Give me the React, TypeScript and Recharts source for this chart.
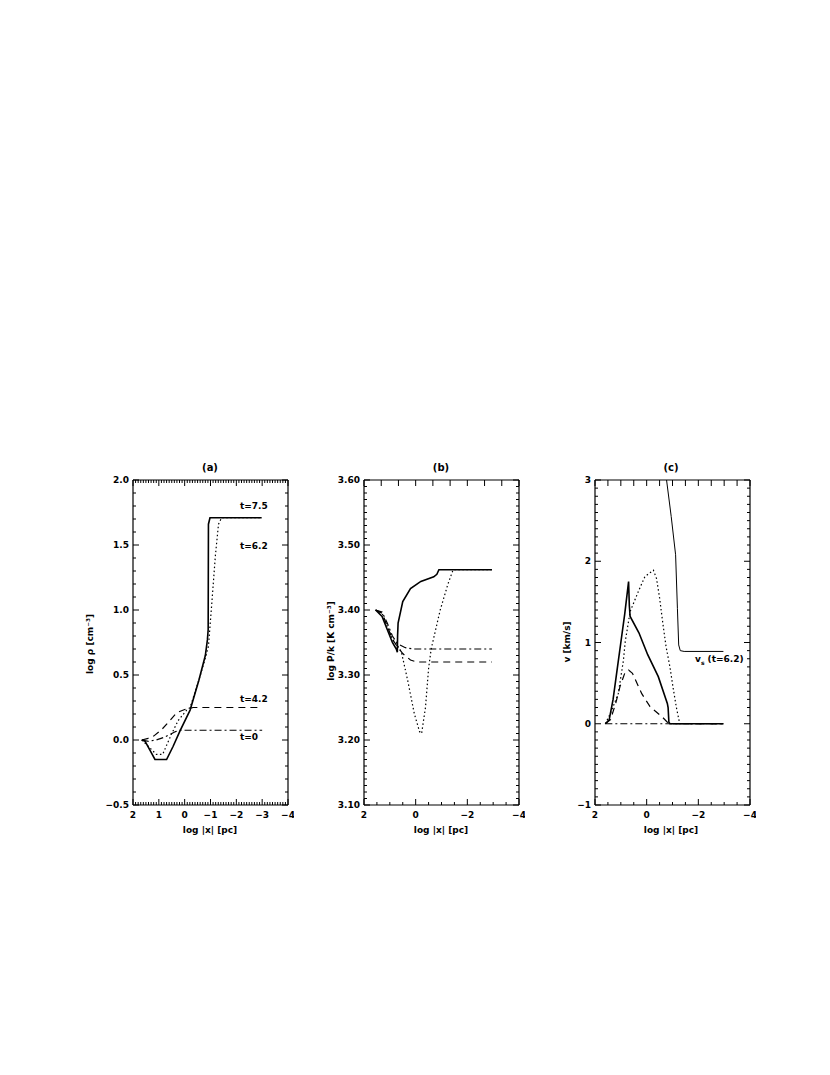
import React from "react";
import { LineChart, Line, XAxis, YAxis } from "recharts";

// log |x| [pc] vs. value, one array per curve
const rhoT0 = [[1.66, 0], [1.4, -0.01], [1.1, 0.0], [0.8, 0.02], [0.6, 0.04], [0.35, 0.065], [0.18, 0.075], [-3, 0.075]];
const rhoT42 = [[1.66, 0], [1.45, 0.01], [1.2, 0.03], [0.89, 0.08], [0.57, 0.15], [0.31, 0.21], [0.0, 0.235], [-0.33, 0.25], [-3, 0.25]];
const rhoT62 = [[1.66, 0], [1.4, -0.05], [1.1, -0.11], [0.85, -0.11], [0.5, 0.05], [0.25, 0.15], [-0.08, 0.23], [-0.21, 0.25], [-0.55, 0.46], [-0.8, 0.63], [-0.92, 0.72], [-1.05, 1.05], [-1.19, 1.42], [-1.31, 1.66], [-1.43, 1.71], [-2.98, 1.71]];
const rhoT75 = [[1.66, 0], [1.53, -0.01], [1.34, -0.08], [1.15, -0.15], [0.7, -0.15], [0.45, -0.05], [0.18, 0.07], [-0.21, 0.23], [-0.55, 0.46], [-0.8, 0.65], [-0.88, 0.77], [-0.91, 0.85], [-0.92, 1.66], [-0.98, 1.71], [-2.98, 1.71]];

const pT0 = [[1.55, 3.4], [1.3, 3.397], [1.1, 3.38], [0.9, 3.36], [0.7, 3.348], [0.4, 3.342], [0.1, 3.34], [-2.95, 3.34]];
const pT42 = [[1.55, 3.4], [1.3, 3.395], [1.1, 3.375], [0.9, 3.355], [0.7, 3.343], [0.5, 3.333], [0.2, 3.323], [-0.05, 3.32], [-2.95, 3.32]];
const pT62 = [[1.55, 3.4], [1.3, 3.395], [1.1, 3.375], [0.9, 3.355], [0.7, 3.345], [0.55, 3.335], [0.3, 3.29], [0.05, 3.24], [-0.15, 3.213], [-0.23, 3.21], [-0.38, 3.25], [-0.5, 3.31], [-0.6, 3.34], [-0.95, 3.4], [-1.25, 3.44], [-1.45, 3.462], [-2.95, 3.462]];
const pT75 = [[1.55, 3.4], [1.3, 3.39], [1.1, 3.37], [0.9, 3.35], [0.75, 3.34], [0.71, 3.335], [0.7, 3.36], [0.68, 3.38], [0.5, 3.413], [0.2, 3.433], [-0.2, 3.444], [-0.7, 3.451], [-0.82, 3.455], [-0.9, 3.462], [-2.95, 3.462]];

const vT0 = [[1.6, 0], [-2.97, 0]];
const vT42 = [[1.6, 0], [1.4, 0.05], [1.2, 0.25], [1.03, 0.46], [0.85, 0.62], [0.7, 0.66], [0.55, 0.62], [0.19, 0.37], [-0.13, 0.21], [-0.58, 0.09], [-0.8, 0.02], [-1.0, 0], [-2.97, 0]];
const vT62 = [[1.6, 0], [1.4, 0.13], [1.1, 0.37], [0.9, 0.78], [0.83, 1.01], [0.64, 1.38], [0.32, 1.63], [0.07, 1.81], [-0.26, 1.89], [-0.38, 1.79], [-0.5, 1.55], [-0.62, 1.25], [-0.75, 0.95], [-0.9, 0.7], [-1.02, 0.45], [-1.15, 0.2], [-1.28, 0], [-2.97, 0]];
const vT75 = [[1.6, 0], [1.45, 0.05], [1.3, 0.3], [1.15, 0.65], [1.0, 1.0], [0.85, 1.35], [0.7, 1.75], [0.67, 1.45], [0.64, 1.32], [0.3, 1.12], [-0.04, 0.85], [-0.45, 0.58], [-0.8, 0.25], [-0.83, 0.2], [-0.86, 0.02], [-0.9, 0], [-2.97, 0]];
const vsT62 = [[-0.77, 3.0], [-0.95, 2.55], [-1.12, 2.08], [-1.19, 1.42], [-1.24, 0.97], [-1.3, 0.9], [-1.45, 0.89], [-2.97, 0.89]];

const xMajorA = [2, 1, 0, -1, -2, -3, -4];
const xMajorBC = [2, 0, -2, -4];
const yMajorA = [-0.5, 0, 0.5, 1, 1.5, 2];
const yMajorB = [3.1, 3.2, 3.3, 3.4, 3.5, 3.6];
const yMajorC = [-1, 0, 1, 2, 3];

const steps = (from: number, to: number, step: number) => {
  const out: number[] = [];
  const n = Math.round((to - from) / step);
  for (let i = 0; i <= n; i++) out.push(Math.round((from + i * step) * 1e4) / 1e4);
  return out;
};

const minus = (s: string) => s.replace("-", "\u2212");
const font = "DejaVu Sans";
const toXY = (pts: number[][]) => pts.map(([x, y]) => ({ x, y }));

function makeTick(side: string, majors: number[], fmt?: (v: number) => string) {
  return (props: any) => {
    const { x, y, payload } = props;
    const v = payload.value;
    const major = majors.some((m) => Math.abs(m - v) < 1e-6);
    const len = major ? 6 : 3;
    let line;
    let label = null;
    if (side === "bottom") {
      line = <line x1={x} x2={x} y1={y} y2={y - len} stroke="#000" />;
      if (major && fmt)
        label = (
          <text x={x} y={y + 13} textAnchor="middle" fontFamily={font} fontSize={9} fontWeight={700} fill="#000">
            {fmt(v)}
          </text>
        );
    } else if (side === "top") {
      line = <line x1={x} x2={x} y1={y} y2={y + len} stroke="#000" />;
    } else if (side === "left") {
      line = <line x1={x} x2={x + len} y1={y} y2={y} stroke="#000" />;
      if (major && fmt)
        label = (
          <text x={x - 4} y={y + 3} textAnchor="end" fontFamily={font} fontSize={9} fontWeight={700} fill="#000">
            {fmt(v)}
          </text>
        );
    } else {
      line = <line x1={x} x2={x - len} y1={y} y2={y} stroke="#000" />;
    }
    return (
      <g>
        {line}
        {label}
      </g>
    );
  };
}

type Series = { data: number[][]; dash?: string; width: number };

const PW = 155;
const PH = 325;

function Panel(props: {
  left: number;
  top: number;
  yDomain: [number, number];
  xBottom: number[];
  xBottomMajor: number[];
  xTop: number[];
  xTopMajor: number[];
  yTicks: number[];
  yMajor: number[];
  yFmt: (v: number) => string;
  series: Series[];
}) {
  const { left, top, yDomain, series } = props;
  return (
    <div style={{ position: "absolute", left: left - 45, top: top - 10 }}>
      <LineChart width={45 + PW + 6} height={10 + PH + 30} margin={{ top: 0, right: 0, bottom: 0, left: 0 }}>
        <XAxis
          xAxisId="b"
          dataKey="x"
          type="number"
          domain={[-4, 2]}
          reversed
          allowDataOverflow
          ticks={props.xBottom}
          interval={0}
          height={30}
          tickSize={0}
          tickMargin={0}
          tickLine={false}
          axisLine={{ stroke: "#000", strokeWidth: 1.2 }}
          tick={makeTick("bottom", props.xBottomMajor, (v) => minus(String(v)))}
        />
        <XAxis
          xAxisId="t"
          orientation="top"
          dataKey="x"
          type="number"
          domain={[-4, 2]}
          reversed
          allowDataOverflow
          ticks={props.xTop}
          interval={0}
          height={10}
          tickSize={0}
          tickMargin={0}
          tickLine={false}
          axisLine={{ stroke: "#000", strokeWidth: 1.2 }}
          tick={makeTick("top", props.xTopMajor)}
        />
        <YAxis
          yAxisId="l"
          type="number"
          domain={yDomain}
          allowDataOverflow
          ticks={props.yTicks}
          interval={0}
          width={45}
          tickSize={0}
          tickMargin={0}
          tickLine={false}
          axisLine={{ stroke: "#000", strokeWidth: 1.2 }}
          tick={makeTick("left", props.yMajor, props.yFmt)}
        />
        <YAxis
          yAxisId="r"
          orientation="right"
          type="number"
          domain={yDomain}
          allowDataOverflow
          ticks={props.yTicks}
          interval={0}
          width={6}
          tickSize={0}
          tickMargin={0}
          tickLine={false}
          axisLine={{ stroke: "#000", strokeWidth: 1.2 }}
          tick={makeTick("right", props.yMajor)}
        />
        {series.map((s, i) => (
          <Line
            key={i}
            xAxisId="b"
            yAxisId="l"
            data={toXY(s.data)}
            dataKey="y"
            type="linear"
            stroke="#000"
            strokeWidth={s.width}
            strokeDasharray={s.dash}
            dot={false}
            activeDot={false}
            isAnimationActive={false}
          />
        ))}
      </LineChart>
    </div>
  );
}

const txt: React.CSSProperties = {
  position: "absolute",
  fontFamily: font,
  fontSize: 9,
  fontWeight: 700,
  whiteSpace: "nowrap",
  lineHeight: 1,
};

function Centered({ x, y, rotate, children, size = 9 }: any) {
  return (
    <div
      style={{
        ...txt,
        fontSize: size,
        left: x,
        top: y,
        transform: `translate(-50%, -50%)${rotate ? " rotate(-90deg)" : ""}`,
      }}
    >
      {children}
    </div>
  );
}

const DASH = "7 5";
const DOT = "1.5 2.5";
const DASHDOT = "7 3 2 3";

export default function App() {
  const xAll = steps(-4, 2, 0.1);
  const xHalf = steps(-4, 2, 0.5);
  const xThird = steps(-4, 2, 2 / 3);
  return (
    <div style={{ position: "absolute", left: 0, top: 0, width: 830, height: 1075, background: "#fff" }}>
      <Panel
        left={133}
        top={480}
        yDomain={[-0.5, 2]}
        xBottom={xAll}
        xBottomMajor={xMajorA}
        xTop={xAll}
        xTopMajor={xMajorA}
        yTicks={steps(-0.5, 2, 0.1)}
        yMajor={yMajorA}
        yFmt={(v) => minus(v.toFixed(1))}
        series={[
          { data: rhoT0, dash: DASHDOT, width: 1.2 },
          { data: rhoT42, dash: DASH, width: 1.2 },
          { data: rhoT62, dash: DOT, width: 1.2 },
          { data: rhoT75, width: 1.6 },
        ]}
      />
      <Panel
        left={364}
        top={480}
        yDomain={[3.1, 3.6]}
        xBottom={xHalf}
        xBottomMajor={xMajorBC}
        xTop={xThird}
        xTopMajor={xThird}
        yTicks={steps(3.1, 3.6, 0.01)}
        yMajor={yMajorB}
        yFmt={(v) => v.toFixed(2)}
        series={[
          { data: pT0, dash: DASHDOT, width: 1.2 },
          { data: pT42, dash: DASH, width: 1.2 },
          { data: pT62, dash: DOT, width: 1.2 },
          { data: pT75, width: 1.6 },
        ]}
      />
      <Panel
        left={595}
        top={480}
        yDomain={[-1, 3]}
        xBottom={xHalf}
        xBottomMajor={xMajorBC}
        xTop={xHalf}
        xTopMajor={xHalf}
        yTicks={steps(-1, 3, 0.1)}
        yMajor={yMajorC}
        yFmt={(v) => minus(String(v))}
        series={[
          { data: vT0, dash: DASHDOT, width: 1.2 },
          { data: vT42, dash: DASH, width: 1.2 },
          { data: vT62, dash: DOT, width: 1.2 },
          { data: vT75, width: 1.6 },
          { data: vsT62, width: 1 },
        ]}
      />

      <Centered x={210} y={468} size={10}>(a)</Centered>
      <Centered x={441} y={468} size={10}>(b)</Centered>
      <Centered x={671} y={468} size={10}>(c)</Centered>

      <Centered x={210} y={830}>log |x| [pc]</Centered>
      <Centered x={441} y={830}>log |x| [pc]</Centered>
      <Centered x={671} y={830}>log |x| [pc]</Centered>

      <Centered x={90} y={644} rotate>log ρ [cm⁻³]</Centered>
      <Centered x={331} y={641} rotate>log P/k [K cm⁻³]</Centered>
      <Centered x={567} y={642} rotate>v [km/s]</Centered>

      <div style={{ ...txt, left: 240, top: 502 }}>t=7.5</div>
      <div style={{ ...txt, left: 240, top: 542 }}>t=6.2</div>
      <div style={{ ...txt, left: 240, top: 695 }}>t=4.2</div>
      <div style={{ ...txt, left: 240, top: 733 }}>t=0</div>
      <div style={{ ...txt, left: 695, top: 655 }}>
        v<sub style={{ fontSize: 6 }}>s</sub> (t=6.2)
      </div>
    </div>
  );
}
